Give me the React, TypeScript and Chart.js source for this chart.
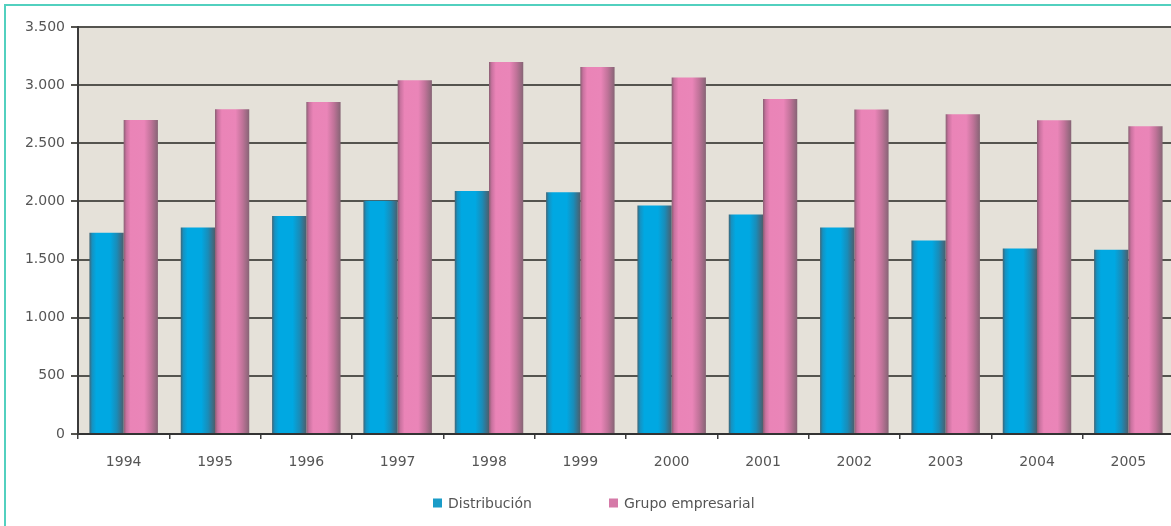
import React, { useEffect, useRef } from "react";
import { Chart, registerables } from "chart.js";

Chart.register(...registerables);

const years = ["1994", "1995", "1996", "1997", "1998", "1999", "2000", "2001", "2002", "2003", "2004", "2005"];
const distribucion = [1730, 1775, 1875, 2005, 2090, 2080, 1965, 1888, 1775, 1665, 1595, 1585];
const grupoEmpresarial = [2700, 2792, 2856, 3042, 3200, 3157, 3065, 2880, 2790, 2750, 2698, 2647];
const seriesLabels = ["Distribución", "Grupo empresarial"];
const yTicks = [0, 500, 1000, 1500, 2000, 2500, 3000, 3500];

const FONT = "'DejaVu Sans', sans-serif";
const TEXT = "#555555";

const blueStops: [number, string][] = [
  [0, "#3f6577"],
  [0.08, "#1592c2"],
  [0.2, "#00a8e2"],
  [0.6, "#00a8e2"],
  [0.8, "#1a8cb8"],
  [1, "#4d5e6c"],
];
const pinkStops: [number, string][] = [
  [0, "#8a5f73"],
  [0.08, "#c9729f"],
  [0.2, "#ea84b7"],
  [0.6, "#ea85b8"],
  [0.8, "#c07399"],
  [1, "#866475"],
];

function fmt(v: number) {
  return v.toLocaleString("de-DE");
}

function barGradient(stops: [number, string][], solid: string) {
  return (ctx: any) => {
    const chart = ctx.chart;
    const xs = chart.scales?.x;
    if (!xs || typeof ctx.dataIndex !== "number") return solid;
    const n = chart.data.labels.length;
    const catW = (xs.right - xs.left) / n;
    const barW = (catW * 0.75) / 2;
    const center = xs.getPixelForValue(ctx.dataIndex);
    const cx = ctx.datasetIndex === 0 ? center - barW / 2 : center + barW / 2;
    const x0 = cx - barW / 2;
    const x1 = cx + barW / 2;
    if (!isFinite(x0) || !isFinite(x1) || x1 <= x0) return solid;
    const g = chart.ctx.createLinearGradient(x0, 0, x1, 0);
    stops.forEach(([o, c]) => g.addColorStop(o, c));
    return g;
  };
}

const bgPlugin = {
  id: "plotBg",
  beforeDraw(chart: any) {
    const { ctx, chartArea } = chart;
    ctx.save();
    ctx.fillStyle = "#e5e1d9";
    ctx.fillRect(chartArea.left, chartArea.top, chartArea.right - chartArea.left, chartArea.bottom - chartArea.top);
    ctx.restore();
  },
};

const legendPlugin = {
  id: "customLegend",
  afterDraw(chart: any) {
    const { ctx } = chart;
    const starts = [433, 609];
    const midY = 503;
    const box = 9;
    const gap = 6;
    ctx.save();
    ctx.font = `14px ${FONT}`;
    ctx.textBaseline = "middle";
    ctx.textAlign = "left";
    chart.data.datasets.forEach((d: any, i: number) => {
      const x = starts[i];
      ctx.fillStyle = d.legendColor;
      ctx.fillRect(x, midY - box / 2, box, box);
      ctx.fillStyle = TEXT;
      ctx.fillText(d.label, x + box + gap, midY + 1);
    });
    ctx.restore();
  },
};

export default function App() {
  const ref = useRef<HTMLCanvasElement | null>(null);

  useEffect(() => {
    document.body.style.margin = "0";
    document.body.style.overflow = "hidden";
    if (!ref.current) return;
    const chart = new Chart(ref.current, {
      type: "bar",
      data: {
        labels: years,
        datasets: [
          {
            label: seriesLabels[0],
            data: distribucion,
            backgroundColor: barGradient(blueStops, "#00a8e2"),
            legendColor: "#1a9cc8",
            borderWidth: 0,
          } as any,
          {
            label: seriesLabels[1],
            data: grupoEmpresarial,
            backgroundColor: barGradient(pinkStops, "#ea84b7"),
            legendColor: "#d57aa8",
            borderWidth: 0,
          } as any,
        ],
      },
      options: {
        animation: false,
        responsive: false,
        maintainAspectRatio: false,
        layout: { padding: { top: 27, right: 2, left: 0, bottom: 0 } },
        datasets: { bar: { categoryPercentage: 0.75, barPercentage: 1 } },
        plugins: {
          legend: { display: false },
          tooltip: { enabled: false },
        },
        scales: {
          x: {
            offset: true,
            grid: {
              offset: true,
              drawOnChartArea: false,
              drawTicks: true,
              tickLength: 5,
              color: "#3e3e3e",
              lineWidth: 1.5,
            },
            border: { display: true, color: "#333333", width: 2 },
            ticks: {
              color: TEXT,
              font: { family: FONT, size: 14 },
              padding: 15,
              maxRotation: 0,
            },
            afterFit(scale: any) {
              scale.height = 92;
            },
          },
          y: {
            min: 0,
            max: 3500,
            afterBuildTicks(scale: any) {
              scale.ticks = yTicks.map((v) => ({ value: v }));
            },
            grid: {
              color: "#55544f",
              lineWidth: 2,
              drawTicks: true,
              tickLength: 7,
            },
            border: { display: true, color: "#3a3a3a", width: 2 },
            ticks: {
              color: TEXT,
              font: { family: FONT, size: 14 },
              padding: 6,
              callback: (v: any) => fmt(Number(v)),
            },
            afterFit(scale: any) {
              scale.width = 78;
            },
          },
        },
      },
      plugins: [bgPlugin, legendPlugin],
    });
    return () => chart.destroy();
  }, []);

  return (
    <div style={{ position: "relative", width: 1171, height: 526, overflow: "hidden", background: "#ffffff" }}>
      <canvas ref={ref} width={1176} height={526} style={{ display: "block", width: 1176, height: 526 }} />
      <div
        style={{
          position: "absolute",
          left: 4,
          top: 4,
          right: 0,
          bottom: 0,
          borderLeft: "2px solid #52d0bf",
          borderTop: "2px solid #52d0bf",
          pointerEvents: "none",
        }}
      />
    </div>
  );
}
